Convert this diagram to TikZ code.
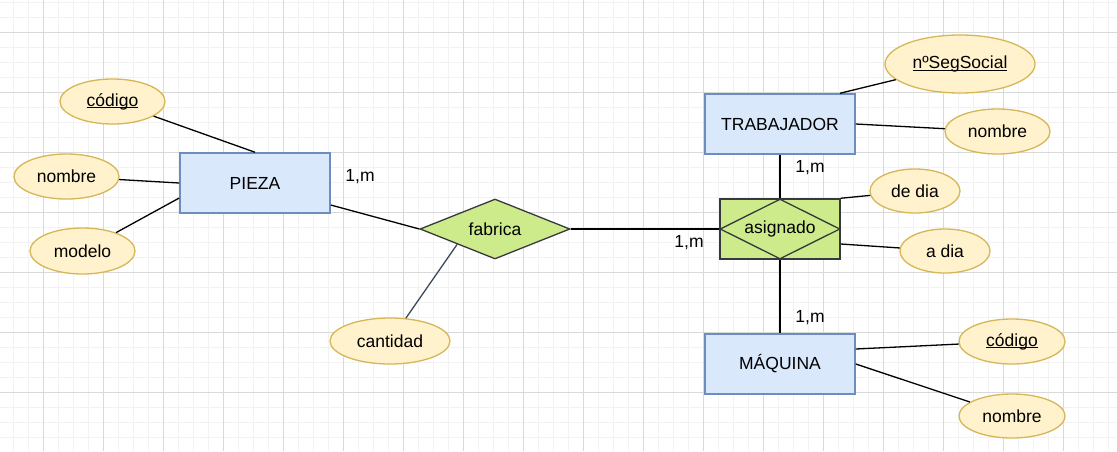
\documentclass[tikz,border=0pt]{standalone}
\usepackage{fontspec}
\setmainfont{Liberation Sans}
\usetikzlibrary{shapes.geometric,calc}
\definecolor{entfill}{HTML}{DAE8FC}
\definecolor{entdraw}{HTML}{6C8EBF}
\definecolor{attfill}{HTML}{FFF2CC}
\definecolor{attdraw}{HTML}{D6B656}
\definecolor{relfill}{HTML}{CDEB8B}
\definecolor{reldraw}{HTML}{36393D}
\definecolor{gridmaj}{HTML}{D9D9D9}
\definecolor{gridmin}{HTML}{F2F2F2}
\definecolor{slate}{HTML}{3D4A5C}
\newcommand{\myul}[1]{\setbox0\hbox{#1}\rlap{\rule[-2.2pt]{\wd0}{1pt}}\box0}
\tikzset{
  every node/.style={font=\fontsize{17.5}{21}\selectfont, inner sep=0pt},
  entity/.style={rectangle, draw=entdraw, fill=entfill, line width=1.5pt, minimum width=150pt, minimum height=60pt},
  attr/.style={ellipse, draw=attdraw, fill=attfill, line width=1.3pt},
  rel/.style={diamond, draw=reldraw, fill=relfill, line width=1.3pt, aspect=2.5},
  conn/.style={line width=1.3pt, black},
  card/.style={anchor=center}
}
\begin{document}
\begin{tikzpicture}[x=1pt,y=-1pt]
\useasboundingbox (0,0) rectangle (1117,451);
\fill[white] (0,0) rectangle (1117,451);
% grid
\foreach \gx in {13,28,...,1117} \draw[gridmin, line width=1pt] (\gx,0) -- (\gx,451);
\foreach \gy in {2,17,...,451} \draw[gridmin, line width=1pt] (0,\gy) -- (1117,\gy);
\foreach \gx in {43,103,...,1117} \draw[gridmaj, line width=1pt] (\gx,0) -- (\gx,451);
\foreach \gy in {32,92,...,451} \draw[gridmaj, line width=1pt] (0,\gy) -- (1117,\gy);

% entities
\node[entity] (pieza) at (255,183) {PIEZA};
\node[entity] (trab) at (780,124) {TRABAJADOR};
\node[entity] (maq) at (780,364) {MÁQUINA};

% relationships
\node[rel, minimum width=150pt, minimum height=60pt] (fab) at (495,229) {fabrica};
\node[rectangle, draw=reldraw, fill=relfill, line width=1.5pt, minimum width=120pt, minimum height=60pt] (asigR) at (780,229) {};
\node[rel, fill=none, minimum width=120pt, minimum height=60pt] (asigD) at (780,229) {asignado};

% attributes
\node[attr, minimum width=105pt, minimum height=45pt] (cod1) at (112.5,101.5) {\myul{código}};
\node[attr, minimum width=105pt, minimum height=45pt] (nom1) at (66.5,176.5) {nombre};
\node[attr, minimum width=105pt, minimum height=46pt] (mod) at (82.5,251) {modelo};
\node[attr, minimum width=120pt, minimum height=46pt] (cant) at (390,341) {cantidad};
\node[attr, minimum width=150pt, minimum height=58pt] (seg) at (960,64) {\myul{nºSegSocial}};
\node[attr, minimum width=105pt, minimum height=45pt] (nom2) at (997.5,131.5) {nombre};
\node[attr, minimum width=90pt, minimum height=44pt] (dedia) at (915,191) {de dia};
\node[attr, minimum width=90pt, minimum height=44pt] (adia) at (945,251) {a dia};
\node[attr, minimum width=106pt, minimum height=45pt] (cod2) at (1012,341.5) {\myul{código}};
\node[attr, minimum width=106pt, minimum height=44pt] (nom3) at (1012,416) {nombre};

% connectors
\coordinate (piezaTop) at (pieza.north);
\coordinate (piezaLow) at ([yshift=-15pt]pieza.west);
\coordinate (piezaEast) at ([yshift=-22pt]pieza.east);
\coordinate (fabLow) at ($(fab.west)!0.5!(fab.south)$);
\coordinate (trabTop) at ([xshift=60pt]trab.north);
\coordinate (asigLow) at ([yshift=-15pt]asigR.east);
\coordinate (maqHigh) at ([yshift=15pt]maq.east);

\draw[conn] (cod1) -- (piezaTop);
\draw[conn] (nom1) -- (pieza.west);
\draw[conn] (mod) -- (piezaLow);
\draw[conn] (piezaEast) -- (fab.west);
\draw[conn] (fab.east) -- (asigR.west);
\draw[conn, slate] (cant) -- (fabLow);
\draw[conn] (trabTop) -- (seg);
\draw[conn] (trab.east) -- (nom2);
\draw[conn] (trab.south) -- (asigR.north);
\draw[conn] (asigR.north east) -- (dedia);
\draw[conn] (asigLow) -- (adia);
\draw[conn] (asigR.south) -- (maq.north);
\draw[conn] (maqHigh) -- (cod2);
\draw[conn] (maq.east) -- (nom3);

% cardinalities
\node[card] (c1) at (360,177) {1,m};
\node[card] (c2) at (689,243) {1,m};
\node[card] (c3) at (810,168) {1,m};
\node[card] (c4) at (810,318) {1,m};
\end{tikzpicture}
\end{document}
